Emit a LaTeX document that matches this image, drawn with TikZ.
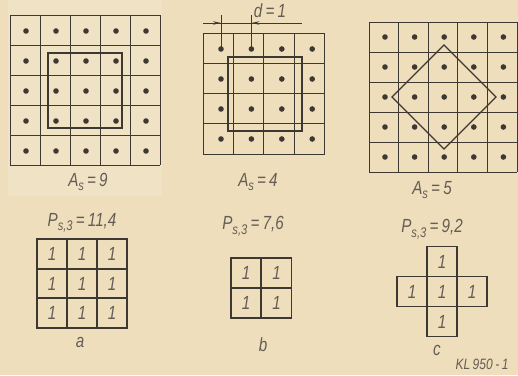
\documentclass[tikz,border=0pt]{standalone}
\usepackage{fontspec}
\setsansfont{Liberation Sans}[FakeStretch=0.8]
\usetikzlibrary{positioning,arrows.meta}
\definecolor{paper}{RGB}{238,222,188}
\definecolor{paperlight}{RGB}{240,227,197}
\definecolor{ink}{RGB}{62,56,50}
\definecolor{txt}{RGB}{100,93,85}
\newcommand{\letters}{\sffamily\itshape\fontsize{19}{19}\selectfont}
\newcommand{\lowsub}[1]{\raisebox{-0.45ex}{\fontsize{14}{14}\selectfont #1}}
\begin{document}
\begin{tikzpicture}[x=1pt, y=-1pt, ink, line width=0.9pt,
	lbl/.style={text=txt, font=\letters, inner sep=0pt},
	dot/.style={fill=ink},
	frame/.style={draw=ink, line width=1.3pt},
	cell/.style={draw=ink, line width=1.1pt, minimum size=30pt, inner sep=0pt, outer sep=0pt, text=txt, font=\letters}]
	\fill[paper] (0,0) rectangle (518,375);
	\useasboundingbox (0,0) rectangle (518,375);
	\fill[paperlight] (8,0) rectangle (162,196);
	% grid a, 5x5 with square sample
	\foreach \i in {0,...,5} {
		\draw (10+30*\i,15) -- (10+30*\i,165);
		\draw (10,15+30*\i) -- (160,15+30*\i);
	}
	\foreach \i in {0,...,4} \foreach \j in {0,...,4}
		\fill[dot] (26+30*\i,31+30*\j) circle (2.8);
	\draw[frame] (48,53) rectangle (122,128);
	\node[lbl] (As9) at (88,182) {A\lowsub{s}\,=\,9};
	% grid b, 4x4 shifted sample
	\foreach \i in {0,...,4} {
		\draw (203+30.4*\i,33) -- (203+30.4*\i,154);
		\draw (203,33+30.25*\i) -- (324.6,33+30.25*\i);
	}
	\foreach \i in {0,...,3} \foreach \j in {0,...,3}
		\fill[dot] (221+30.4*\i,49+30*\j) circle (2.8);
	\draw[frame] (228,57) rectangle (302,131);
	\node[lbl] (As4) at (258,182) {A\lowsub{s}\,=\,4};
	% dimension d
	\coordinate (e1) at (221,49);
	\coordinate (e2) at (251.4,49);
	\coordinate (dL) at (203,23);
	\coordinate (dR) at (302,23);
	\draw (e1) -- ++(0,-34);
	\draw (e2) -- ++(0,-34);
	\draw (dL) -- (dR);
	\draw[-{Stealth[length=8pt,width=3.5pt]}] (dL) -- (dL-|e1);
	\draw[-{Stealth[length=8pt,width=3.5pt]}] (dR) -- (dR-|e2);
	\node[lbl] (d1) at (270,11) {d\,=\,1};
	% grid c, 5x5 with rotated sample
	\foreach \i in {0,...,5} {
		\draw (369+29.6*\i,22) -- (369+29.6*\i,172);
		\draw (369,22+30*\i) -- (517,22+30*\i);
	}
	\foreach \i in {0,...,4} \foreach \j in {0,...,4}
		\fill[dot] (385+29.6*\i,37+30*\j) circle (2.8);
	\draw[frame] (444,45) -- (496,97) -- (444,149) -- (392,97) -- cycle;
	\node[lbl] (As5) at (432,190) {A\lowsub{s}\,=\,5};
	% P values
	\node[lbl] (Pa) at (82,223) {P\lowsub{s,3}\,=\,11,4};
	\node[lbl] (Pb) at (253,226) {P\lowsub{s,3}\,=\,7,6};
	\node[lbl] (Pc) at (432,229) {P\lowsub{s,3}\,=\,9,2};
	% cell groups
	\foreach \i in {0,1,2} \foreach \j in {0,1,2}
		\node[cell] (a\i\j) at (52+30*\i,254+29.5*\j) {1};
	\foreach \i in {0,1} \foreach \j in {0,1}
		\node[cell] (b\i\j) at (246+30.5*\i,273+30*\j) {1};
	\node[cell] (c0) at (442,291.5) {1};
	\node[cell, above=0pt of c0] (cN) {1};
	\node[cell, below=0pt of c0] (cS) {1};
	\node[cell, left=0pt of c0] (cW) {1};
	\node[cell, right=0pt of c0] (cE) {1};
	\node[lbl] (la) at (80,342) {a};
	\node[lbl] (lb) at (263,345) {b};
	\node[lbl] (lc) at (437,350) {c};
	\node[lbl, font=\sffamily\itshape\fontsize{15}{15}\selectfont] (kl) at (482,364) {KL\,950\,-\,1};
\end{tikzpicture}
\end{document}
